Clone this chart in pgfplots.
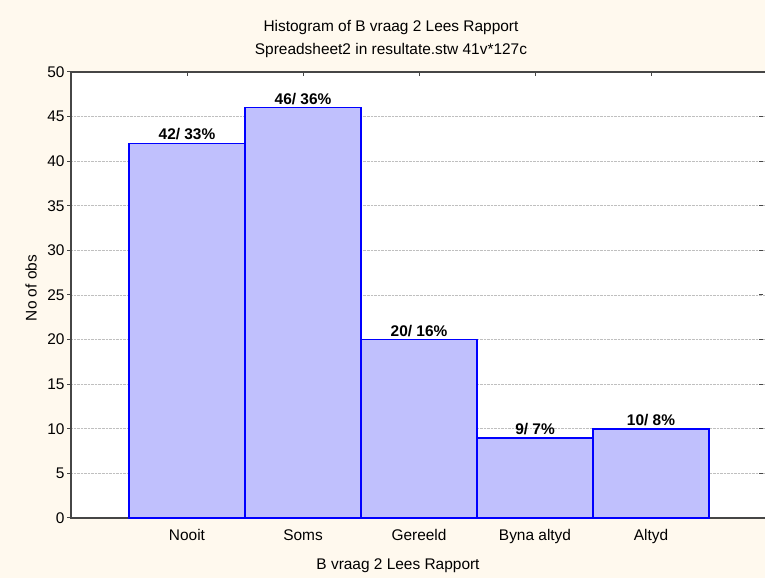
\documentclass[border=0pt]{standalone}
\usepackage{fontspec}
\setmainfont{Liberation Sans}
\usepackage{pgfplots}
\pgfplotsset{compat=1.18}
\definecolor{bgc}{RGB}{255,249,238}
\definecolor{barfill}{RGB}{192,192,253}
\definecolor{axc}{RGB}{70,70,70}
\newcommand{\cf}{\fontsize{15.5}{18}\selectfont}
\begin{document}
\begin{tikzpicture}[x=1bp,y=1bp]
\fill[bgc] (0,0) rectangle (765,578);
\useasboundingbox (0,0) rectangle (765,578);
\node[font=\cf] at (391,550) {Histogram of B vraag 2 Lees Rapport};
\node[font=\cf] at (391,527) {Spreadsheet2 in resultate.stw 41v*127c};
\node[font=\cf] at (398,12) {B vraag 2 Lees Rapport};
\node[font=\cf, rotate=90] at (31,290) {No of obs};
\begin{axis}[
  at={(71bp,60bp)}, anchor=south west,
  scale only axis, width=696bp, height=446bp,
  xmin=0, xmax=6, ymin=0, ymax=50,
  axis background/.style={fill=white},
  axis line style={axc, line width=1.5bp},
  xtick={1,2,3,4,5},
  xticklabels={Nooit,Soms,Gereeld,Byna altyd,Altyd},
  ytick={0,5,...,50},
  ticklabel pos=left,
  tick pos=both,
  tick align=inside,
  major tick length=4bp,
  tick style={axc, line width=1bp},
  ytick style={xshift=-4bp},
  ymajorgrids,
  major grid style={densely dotted, gray!50, line width=0.8bp},
  tick label style={font=\cf},
  xticklabel style={yshift=-8bp},
  yticklabel style={xshift=-3bp},
  /pgf/number format/assume math mode=true,
  clip=false,
]
\addplot[ybar, bar width=1, fill=barfill, draw=blue, line width=1.6bp,
  nodes near coords, point meta=explicit symbolic,
  nodes near coords style={font=\cf\bfseries, text=black, anchor=south, yshift=-1bp}]
  coordinates {
  (1,42) [42/ 33\%]
  (2,46) [46/ 36\%]
  (3,20) [20/ 16\%]
  (4,9)  [9/ 7\%]
  (5,10) [10/ 8\%]
  };
\end{axis}
\end{tikzpicture}
\end{document}
